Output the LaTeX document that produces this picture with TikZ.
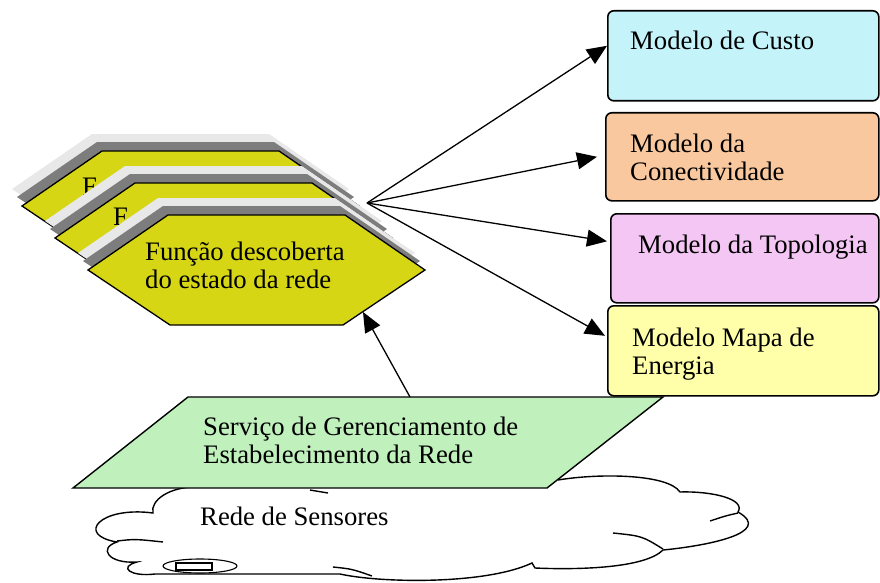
\documentclass[tikz,border=0pt]{standalone}
\usepackage{fontspec}
\setmainfont{Liberation Serif}
\usetikzlibrary{arrows.meta,calc}
\definecolor{hexface}{RGB}{214,214,20}
\definecolor{hexgray}{RGB}{125,125,125}
\definecolor{hexlight}{RGB}{232,232,232}
\definecolor{custofill}{RGB}{196,244,250}
\definecolor{conectfill}{RGB}{250,200,158}
\definecolor{topofill}{RGB}{244,198,244}
\definecolor{energiafill}{RGB}{255,255,170}
\definecolor{parafill}{RGB}{192,240,188}
\tikzset{
  modelbox/.style={draw=black, line width=1.6pt, rounded corners=6pt, anchor=north west, inner sep=0pt},
  lbl/.style={font=\fontsize{26.7}{27.5}\selectfont, anchor=base west, inner sep=0pt, align=left},
  arr/.style={line width=1.3pt, -{Triangle[length=20pt,width=17pt]}},
  outline/.style={draw=black, line width=1.4pt},
  hexstack/.pic={
    \fill[hexlight] (158,198) -- (335,198) -- (415,253) -- (333,308) -- (160,308) -- (78,253) -- cycle;
    \fill[hexgray] (163,206) -- (340,206) -- (420,261) -- (338,316) -- (165,316) -- (83,261) -- cycle;
    \filldraw[fill=hexface, draw=black, line width=1.3pt]
      (168,215) coordinate (-tl) -- (345,215) -- (425,270) coordinate (-r) -- (343,325) -- (170,325) -- (88,270) -- cycle;
  }
}
\begin{document}
\begin{tikzpicture}[x=1pt,y=-1pt]
\useasboundingbox (0,0) rectangle (880,583);

% ---------- cloud ----------
\fill[white] (195,487) .. controls (170,487) and (150,500) .. (153,513)
  .. controls (100,506) and (75,535) .. (117,542)
  .. controls (98,548) and (108,564) .. (137,562)
  .. controls (118,567) and (130,577) .. (155,574)
  -- (340,574) .. controls (380,583) and (485,585) .. (532,563)
  -- (535,568) .. controls (580,570) and (645,568) .. (663,550)
  .. controls (705,546) and (775,533) .. (738,512)
  .. controls (746,499) and (712,491) .. (680,492)
  .. controls (668,474) and (600,473) .. (558,480)
  -- (540,486) -- cycle;
\draw[line width=1.4pt] (195,487) .. controls (170,487) and (150,500) .. (153,513)
  .. controls (100,506) and (75,535) .. (117,542)
  .. controls (98,548) and (108,564) .. (137,562)
  .. controls (118,567) and (130,577) .. (155,574)
  -- (340,574) .. controls (380,583) and (485,585) .. (532,563)
  -- (535,568) .. controls (580,570) and (645,568) .. (663,550)
  .. controls (705,546) and (775,533) .. (738,512)
  .. controls (746,499) and (712,491) .. (680,492)
  .. controls (668,474) and (600,473) .. (558,480);
\draw[line width=1.4pt] (117,541) .. controls (135,539) .. (163,542);
\draw[line width=1.4pt] (333,567) .. controls (352,569) .. (372,576);
\draw[line width=1.4pt] (613,533) .. controls (642,536) .. (663,549);
\draw[line width=1.4pt] (710,521) .. controls (725,516) .. (738,513);
\draw[line width=1.4pt] (310,490) -- (328,493);
\draw[line width=1.1pt] (200,566) ellipse [x radius=37, y radius=7];
\draw[line width=1.1pt] (176,563) rectangle (212,570);
\node[lbl] (sensores) at (200,525) {Rede de Sensores};

% ---------- parallelogram ----------
\filldraw[fill=parafill, outline] (188,397) coordinate (ptl) -- (663,397) -- (547,488) -- (73,488) -- cycle;
\coordinate (ptop) at (410,397);
\node[lbl] (servico) at (203,463) {Serviço de Gerenciamento de\\Estabelecimento da Rede};

% ---------- hexagon stack ----------
\pic (back) at (-66,-64) {hexstack};
\node[lbl] (fback) at (82,195) {F};
\pic (mid) at (-33,-32) {hexstack};
\node[lbl] (fmid) at (113,225) {F};
\pic (front) at (0,0) {hexstack};
\node[lbl] (funcao) at (145,288) {Função descoberta\\do estado da rede};
\coordinate (hub) at (367,203);
\coordinate (hexbr) at (363,312);

% ---------- model boxes ----------
\node[modelbox, fill=custofill, minimum width=271pt, minimum height=90pt] (custo) at (607,10) {};
\node[lbl] (tcusto) at (630,50) {Modelo de Custo};
\node[modelbox, fill=conectfill, minimum width=273pt, minimum height=88pt] (conect) at (605,112) {};
\node[lbl] (tconect) at (630,180) {Modelo da\\Conectividade};
\node[modelbox, fill=topofill, minimum width=268pt, minimum height=89pt] (topo) at (610,213) {};
\node[lbl] (ttopo) at (638,253) {Modelo da Topologia};
\node[modelbox, fill=energiafill, minimum width=271pt, minimum height=90pt] (energia) at (607,305) {};
\node[lbl] (tenergia) at (632,374) {Modelo Mapa de\\Energia};

% ---------- arrows ----------
\draw[arr] (hub) -- ($(custo.west)+(0,-10)$);
\draw[arr] (hub) -- ($(conect.west)+(-8,0)$);
\draw[arr] (hub) -- ($(topo.west)+(-3,-17)$);
\draw[arr] (hub) -- ($(energia.west)+(-2,-15)$);
\draw[arr] (ptop) -- (hexbr);
\end{tikzpicture}
\end{document}
